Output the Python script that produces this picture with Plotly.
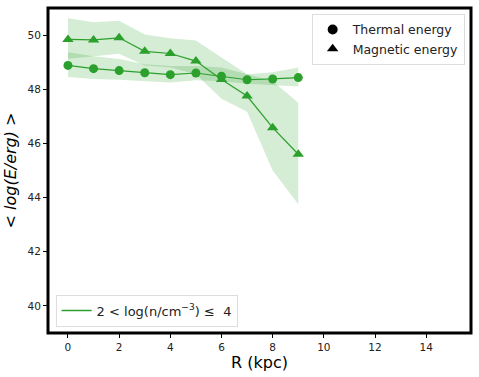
import plotly.graph_objects as go

R = [0, 1, 2, 3, 4, 5, 6, 7, 8, 9]

thermal = [48.88, 48.76, 48.69, 48.61, 48.54, 48.6, 48.48, 48.35, 48.38, 48.43]
thermal_hi = [49.37, 49.22, 49.12, 48.92, 48.86, 48.86, 48.8, 48.55, 48.63, 48.8]
thermal_lo = [48.45, 48.38, 48.35, 48.3, 48.25, 48.33, 48.3, 48.2, 48.15, 48.1]

magnetic = [49.84, 49.82, 49.9, 49.4, 49.32, 49.04, 48.36, 47.75, 46.58, 45.6]
magnetic_hi = [50.62, 50.47, 50.53, 50.02, 49.88, 49.8, 49.17, 48.55, 48.3, 47.5]
magnetic_lo = [49.13, 49.23, 49.31, 48.88, 48.8, 48.55, 47.65, 47.17, 45.0, 43.75]

green = "#2ca02c"
band = "rgba(44,160,44,0.2)"

fig = go.Figure()

for lo, hi in [(thermal_lo, thermal_hi), (magnetic_lo, magnetic_hi)]:
    fig.add_trace(go.Scatter(x=R, y=lo, mode="lines", line=dict(width=0),
                             showlegend=False, hoverinfo="skip"))
    fig.add_trace(go.Scatter(x=R, y=hi, mode="lines", line=dict(width=0),
                             fill="tonexty", fillcolor=band,
                             showlegend=False, hoverinfo="skip"))

fig.add_trace(go.Scatter(x=R, y=thermal, mode="lines+markers",
                         line=dict(color=green, width=1.2),
                         marker=dict(symbol="circle", size=9, color=green),
                         showlegend=False))
fig.add_trace(go.Scatter(x=R, y=magnetic, mode="lines+markers",
                         line=dict(color=green, width=1.2),
                         marker=dict(symbol="triangle-up", size=10, color=green),
                         showlegend=False))

# legend entries
fig.add_trace(go.Scatter(x=[None], y=[None], mode="markers", name="Thermal energy",
                         marker=dict(symbol="circle", size=10, color="black"),
                         legend="legend"))
fig.add_trace(go.Scatter(x=[None], y=[None], mode="markers", name="Magnetic energy",
                         marker=dict(symbol="triangle-up", size=10, color="black"),
                         legend="legend"))
fig.add_trace(go.Scatter(x=[None], y=[None], mode="lines",
                         name="2 < log(n/cm<sup>\u22123</sup>) \u2264  4",
                         line=dict(color=green, width=1.5), legend="legend2"))

fig.update_layout(
    width=479, height=377,
    margin=dict(l=48, r=8, t=8, b=44),
    plot_bgcolor="white", paper_bgcolor="white",
    font=dict(family="DejaVu Sans", color="#222222", size=10.5),
    legend=dict(x=0.985, y=0.982, xanchor="right", yanchor="top", traceorder="normal",
                bgcolor="rgba(255,255,255,0.8)", bordercolor="#dddddd", borderwidth=1,
                font=dict(size=12.5), tracegroupgap=0),
    legend2=dict(x=0.018, y=0.02, xanchor="left", yanchor="bottom",
                 bgcolor="rgba(255,255,255,0.8)", bordercolor="#dddddd", borderwidth=1,
                 font=dict(size=13)),
    shapes=[dict(type="rect", xref="paper", yref="paper", x0=0, y0=0, x1=1, y1=1,
                 line=dict(color="black", width=3))],
)
fig.update_xaxes(range=[-0.78, 15.75], tickvals=[0, 2, 4, 6, 8, 10, 12, 14],
                 ticks="outside", ticklen=4, tickcolor="black", showgrid=False,
                 zeroline=False, showline=False, automargin=False,
                 title=dict(text="R (kpc)", font=dict(size=16, color="black"), standoff=4))
fig.update_yaxes(range=[39, 51], tickvals=[40, 42, 44, 46, 48, 50],
                 ticks="outside", ticklen=4, tickcolor="black", showgrid=False,
                 zeroline=False, showline=False, automargin=False,
                 title=dict(text="< <i>log(E/erg)</i> >", font=dict(size=16, color="black"), standoff=6))

fig.write_html("out.html", config={"displayModeBar": False},
               post_script="document.body.style.margin='0';")
